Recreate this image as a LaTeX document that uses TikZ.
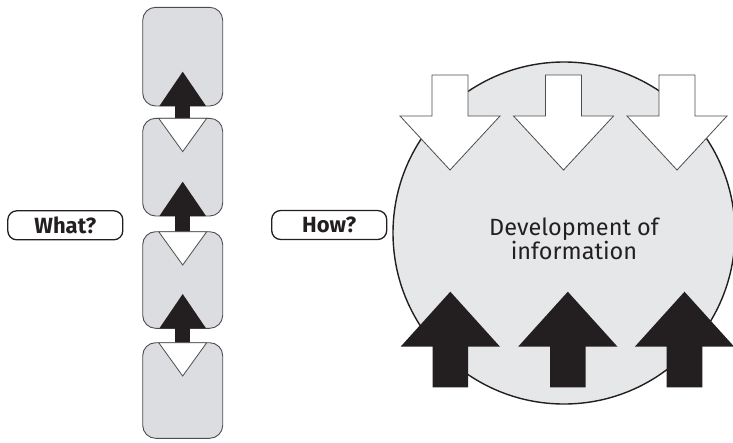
\documentclass[tikz,border=0pt]{standalone}
\usepackage{fontspec}
\setmainfont{Liberation Sans}
\newfontfamily\infofont{Fira Sans}
\usetikzlibrary{calc}

\definecolor{panelgray}{HTML}{DCDDE0}
\definecolor{discgray}{HTML}{E6E7E8}
\definecolor{edgegray}{HTML}{4D4D4F}
\definecolor{ink}{HTML}{231F20}

\tikzset{
  panel/.style={draw=edgegray, fill=panelgray, line width=0.9pt,
    rounded corners=13pt, minimum width=80pt, outer sep=0pt, inner sep=0pt},
  asklabel/.style={draw=ink, line width=1.3pt, rounded corners=9pt,
    minimum width=115pt, minimum height=29pt, inner sep=0pt,
    font=\infofont\bfseries\fontsize{22}{22}\selectfont, text=ink},
  hollowhead/.style={fill=white, draw=edgegray, line width=0.8pt, line join=miter},
  solidink/.style={fill=ink},
  pics/inflow/.style={code={
    \filldraw[hollowhead] (-18,-95) -- (18,-95) -- (18,-54) -- (50,-54)
      -- (0,0) -- (-50,-54) -- (-18,-54) -- cycle;}},
  pics/outflow/.style={code={
    \fill[solidink] (0,0) -- (49.7,55) -- (17.8,55) -- (17.8,95.6)
      -- (-17.8,95.6) -- (-17.8,55) -- (-49.7,55) -- cycle;}}
}

\begin{document}
\begin{tikzpicture}[x=1pt, y=-1pt]
\useasboundingbox (0,0) rectangle (733,442);

% left column of stacked panels
\node[panel, minimum height=98.7pt] (b1) at (182.7,56.65) {};
\node[panel, minimum height=97.7pt] (b2) at (182.7,167.15) {};
\node[panel, minimum height=96.6pt] (b3) at (182.7,280) {};
\node[panel, minimum height=95.6pt] (b4) at (182.7,390.5) {};

% upward black arrows linking the panels
\foreach \lo/\hi in {b1/b2, b2/b3, b3/b4} {
  \fill[solidink] ($(\lo.south)+(-7.5,0)$) rectangle ($(\hi.north)+(7.5,1)$);
  \fill[solidink] ($(\lo.south)+(-23.3,0)$) -- ++(23.3,-34.3) -- ++(23.3,34.3) -- cycle;
}

% white downward wedges at the panel tops
\foreach \p in {b2, b3, b4} {
  \filldraw[hollowhead] ($(\p.north)+(-24,0)$) -- ++(24,33.3) -- ++(24,-33.3) -- cycle;
}

% question labels
\node[asklabel] (what) at (65.3,225.3) {What?};
\node[asklabel] (how) at (329.2,225) {How?};

% large disc
\node[circle, draw=ink, fill=discgray, line width=1.4pt,
  minimum size=342pt, inner sep=0pt] (disc) at (564,233) {};
\node[align=center, text=ink, inner sep=0pt,
  font=\infofont\fontsize{23.5}{22}\selectfont] (dev) at (574,239)
  {Development of\\information};

% inflowing and outflowing arrows
\pic at (450,170) {inflow};
\pic at (563.5,170) {inflow};
\pic at (677,170) {inflow};
\pic at (450.3,291.7) {outflow};
\pic at (567.8,291.7) {outflow};
\pic at (684.5,291.7) {outflow};
\end{tikzpicture}
\end{document}
